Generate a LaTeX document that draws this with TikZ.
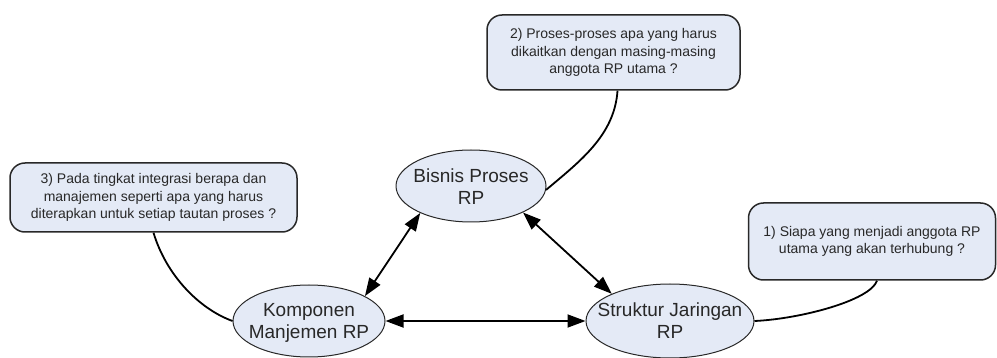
\documentclass[tikz,border=0pt]{standalone}
\usepackage{fontspec}
\setmainfont{Liberation Sans}
\usetikzlibrary{shapes.geometric,arrows.meta}
\definecolor{boxfill}{RGB}{228,234,246}
\definecolor{edge}{RGB}{40,40,40}
\definecolor{txt}{RGB}{40,40,40}
\begin{document}
\begin{tikzpicture}[x=1pt,y=-1pt,
  ell/.style={ellipse,draw=edge,line width=1pt,fill=boxfill,inner sep=0pt},
  etext/.style={align=center,text=txt,font=\fontsize{19}{22}\selectfont,inner sep=0pt},
  callout/.style={rectangle,rounded corners=15pt,draw=edge,line width=1.5pt,fill=boxfill,
    align=center,text=txt,font=\fontsize{14}{17.5}\selectfont,inner sep=0pt},
  link/.style={line width=1.8pt,black},
  dbl/.style={line width=1.8pt,black,{Triangle[length=18pt,width=13pt]}-{Triangle[length=18pt,width=13pt]}}
]
\useasboundingbox (0,0) rectangle (997,358);
% ellipses
\node[ell,minimum width=150,minimum height=72] (b) at (471,186) {};
\node[ell,minimum width=152,minimum height=72] (k) at (309,321) {};
\node[ell,minimum width=168,minimum height=74] (s) at (670,321) {};
\node[etext] (bt) at (471,187) {Bisnis Proses\\RP};
\node[etext] (kt) at (309,323) {Komponen\\Manjemen RP};
\node[etext] (st) at (670,321) {Struktur Jaringan\\RP};
% callouts
\node[callout,minimum width=253,minimum height=75] (c2) at (613.5,52.5)
  {2) Proses-proses apa yang harus\\dikaitkan dengan masing-masing\\anggota RP utama ?};
\node[callout,minimum width=287,minimum height=69] (c3) at (153.5,197.5)
  {3) Pada tingkat integrasi berapa dan\\manajemen seperti apa yang harus\\diterapkan untuk setiap tautan proses ?};
\node[callout,minimum width=247,minimum height=77] (c1) at (872,241.5)
  {1) Siapa yang menjadi anggota RP\\utama yang akan terhubung ?};
% arrows
\draw[dbl] (b.208) -- (k.24);
\draw[dbl] (b.333) -- (s.155);
\draw[dbl] (k.east) -- (s.west);
% connectors
\draw[link] ([xshift=4pt]c2.south) .. controls +(-3,45) and +(33,-28) .. (b.-3);
\draw[link] (c3.south) .. controls +(13,43) and +(-33,-12) .. (k.west);
\draw[link] ([xshift=5pt]c1.south) .. controls +(-7,20) and +(45,-2) .. (s.east);
\end{tikzpicture}
\end{document}
